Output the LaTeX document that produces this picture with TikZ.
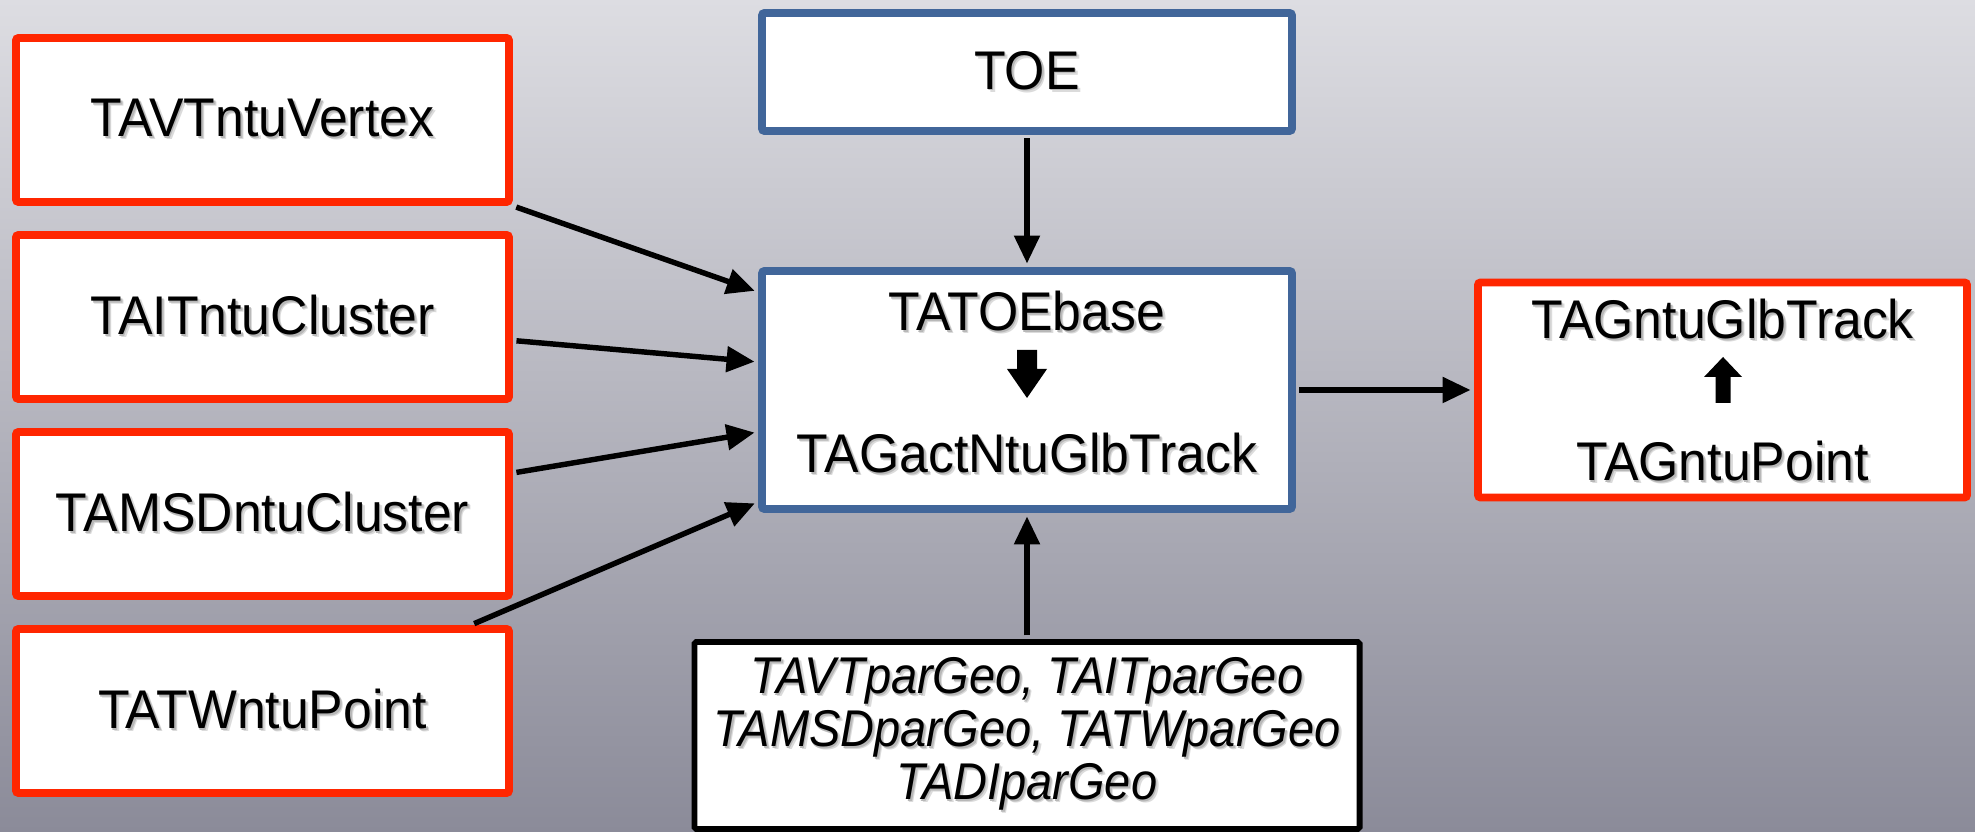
\documentclass[tikz,border=0pt]{standalone}
\usepackage{fontspec}
\usepackage{tikz}
\usepackage{xcolor}
\usetikzlibrary{arrows.meta}
\setmainfont{Liberation Sans}[FakeStretch=0.95]
\newfontfamily\geofont{Liberation Sans}[FakeStretch=0.91]
\definecolor{bgtop}{RGB}{221,221,226}
\definecolor{bgbot}{RGB}{139,139,153}
\definecolor{boxred}{RGB}{255,38,0}
\definecolor{boxblue}{RGB}{65,102,154}
% soft grey copy of a label, down and to the right
\newcommand{\shtxt}[1]{\leavevmode\rlap{\kern1.7pt\raisebox{-1.7pt}{\color{black!14}#1}}\rlap{\kern0.9pt\raisebox{-0.9pt}{\color{black!28}#1}}#1}

\begin{document}
\begin{tikzpicture}[
  redbox/.style={draw=boxred, line width=4.5pt, fill=white, rounded corners=1.5pt, minimum width=9.86cm, minimum height=3.28cm, inner sep=0pt, font=\fontsize{31}{37}\selectfont},
  bluebox/.style={draw=boxblue, line width=4.5pt, fill=white, rounded corners=1.5pt, minimum width=10.6cm, inner sep=0pt, font=\fontsize{31}{37}\selectfont},
  txt/.style={inner sep=0pt, font=\fontsize{31}{37}\selectfont},
  link/.style={line width=3.1pt, -{Triangle[length=0.56cm,width=0.50cm]}, shorten <=2pt, shorten >=2pt}]
  \shade[top color=bgtop, bottom color=bgbot] (0,0) rectangle (39.5,16.64); \useasboundingbox (0,0) rectangle (39.5,16.64);
  \node[redbox] (vtx) at (5.25,14.24) {\shtxt{TAVTntuVertex}};
  \node[redbox] (itc) at (5.25,10.30) {\shtxt{TAITntuCluster}};
  \node[redbox] (msd) at (5.25,6.36) {\shtxt{TAMSDntuCluster}};
  \node[redbox] (tw) at (5.25,2.42) {\shtxt{TATWntuPoint}};
  \node[bluebox, minimum height=2.36cm] (toe) at (20.54,15.20) {\shtxt{TOE}};
  \node[bluebox, minimum height=4.76cm] (base) at (20.54,8.84) {};
  \node[txt] (basetop) at (20.54,10.38) {\shtxt{TATOEbase}}; \node[txt] (act) at (20.54,7.54) {\shtxt{TAGactNtuGlbTrack}};
  \fill (20.34,9.64) -- (20.74,9.64) -- (20.74,9.26) -- (20.94,9.26) -- (20.54,8.68) -- (20.14,9.26) -- (20.34,9.26) -- cycle;
  \node[redbox, minimum width=9.78cm, minimum height=4.30cm] (glb) at (34.45,8.84) {};
  \node[txt] (glbtop) at (34.45,10.22) {\shtxt{TAGntuGlbTrack}}; \node[txt] (pnt) at (34.45,7.38) {\shtxt{TAGntuPoint}};
  \fill (34.31,8.58) -- (34.61,8.58) -- (34.61,9.10) -- (34.84,9.10) -- (34.46,9.50) -- (34.08,9.10) -- (34.31,9.10) -- cycle;
  \node[draw=black, line width=3.4pt, fill=white, rounded corners=1pt, minimum width=13.3cm, minimum height=3.74cm, inner sep=0pt, align=center, font=\geofont\itshape\fontsize{29.4}{30.2}\selectfont] (geo) at (20.54,1.93) {\shtxt{TAVTparGeo, TAITparGeo}\\\shtxt{TAMSDparGeo, TATWparGeo}\\\shtxt{TADIparGeo}};
  \draw[link] (toe) -- (base); \draw[link] (geo) -- (base); \draw[link] (base) -- (glb);
  \draw[link] (vtx.south east) -- ([yshift=1.96cm]base.west);
  \draw[link] ([yshift=-0.47cm]itc.east) -- ([yshift=0.56cm]base.west);
  \draw[link] ([yshift=0.82cm]msd.east) -- ([yshift=-0.84cm]base.west);
  \draw[link] ([xshift=-0.84cm]tw.north east) -- ([yshift=-2.24cm]base.west);
\end{tikzpicture}
\end{document}
